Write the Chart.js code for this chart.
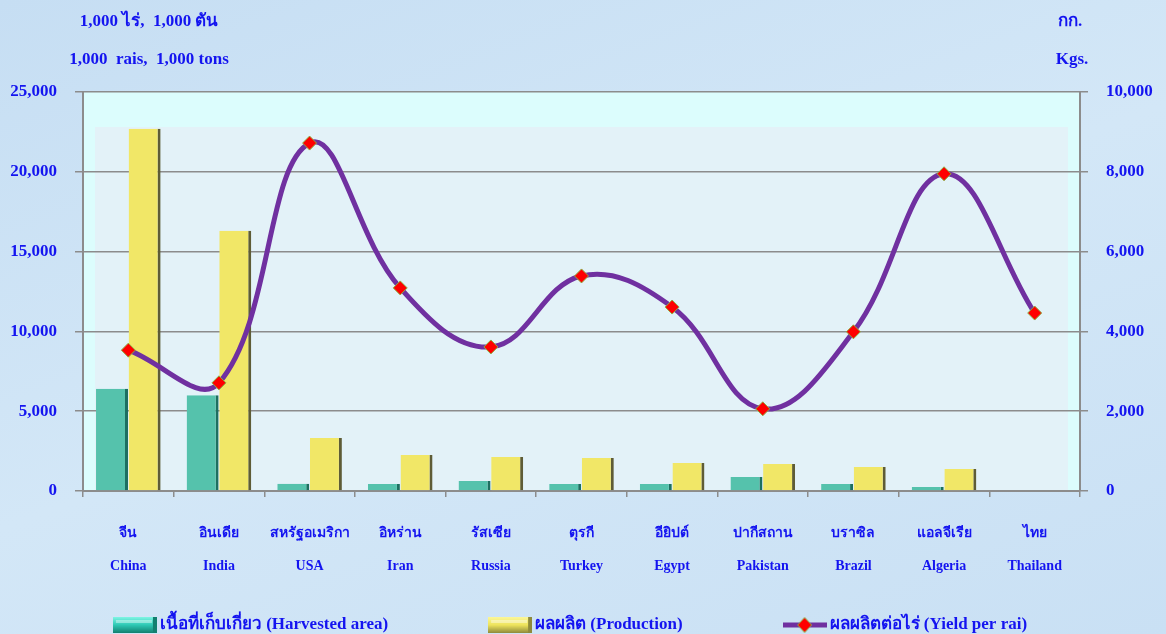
<!DOCTYPE html>
<html>
<head>
<meta charset="utf-8">
<script src="https://cdn.jsdelivr.net/npm/chart.js@4.4.1/dist/chart.umd.min.js"></script>
<style>
  html, body { margin: 0; padding: 0; }
  body { width: 1166px; height: 634px; background: linear-gradient(160deg, #c6def3 0%, #d3e7f7 50%, #c9e0f4 100%); }
  #wrap { position: relative; width: 1166px; height: 634px; }
</style>
</head>
<body>
<div id="wrap"><canvas id="chart"></canvas></div>
<script>
const thaiNames = ['จีน', 'อินเดีย', 'สหรัฐอเมริกา', 'อิหร่าน', 'รัสเซีย', 'ตุรกี', 'อียิปต์', 'ปากีสถาน', 'บราซิล', 'แอลจีเรีย', 'ไทย']
const engNames = ['China', 'India', 'USA', 'Iran', 'Russia', 'Turkey', 'Egypt', 'Pakistan', 'Brazil', 'Algeria', 'Thailand']
const harvestedArea = [6400, 6000, 450, 440, 630, 440, 440, 880, 440, 250, 0]
const production = [22700, 16300, 3320, 2250, 2130, 2070, 1750, 1690, 1500, 1380, 0]
const yieldPerRai = [3530, 2710, 8720, 5090, 3610, 5390, 4610, 2060, 3990, 7950, 4460]

const blue = '#1414f0'
const serif = '"Liberation Serif", "Times New Roman", serif'

// legend icons
function makeIcon(kind) {
  const c = document.createElement('canvas')
  c.width = 44; c.height = 16
  const g = c.getContext('2d')
  if (kind === 'line') {
    g.strokeStyle = '#7030a0'; g.lineWidth = 5
    g.beginPath(); g.moveTo(0, 8); g.lineTo(44, 8); g.stroke()
    g.fillStyle = '#ff0000'; g.strokeStyle = '#8db040'; g.lineWidth = 1
    g.beginPath(); g.moveTo(22, 0.5); g.lineTo(29, 8); g.lineTo(22, 15.5); g.lineTo(15, 8); g.closePath()
    g.fill(); g.stroke()
  } else {
    const light = kind === 'teal' ? '#7ff5e4' : '#fbf79a'
    const mid = kind === 'teal' ? '#2ec8b4' : '#eee45c'
    const dark = kind === 'teal' ? '#12806f' : '#8e8a3c'
    const gr = g.createLinearGradient(0, 0, 0, 16)
    gr.addColorStop(0, light); gr.addColorStop(0.5, mid); gr.addColorStop(1, dark)
    g.fillStyle = gr; g.fillRect(0, 0, 44, 16)
    g.fillStyle = dark; g.fillRect(40, 0, 4, 16)
    g.fillStyle = 'rgba(255,255,255,0.4)'; g.fillRect(3, 3, 36, 3)
  }
  return c
}

const legendItems = [
  { icon: makeIcon('teal'), text: 'เนื้อที่เก็บเกี่ยว (Harvested area)' },
  { icon: makeIcon('yellow'), text: 'ผลผลิต (Production)' },
  { icon: makeIcon('line'), text: 'ผลผลิตต่อไร่ (Yield per rai)' }
]

const decor = {
  id: 'decor',
  beforeDraw(chart) {
    const { ctx, chartArea: a } = chart
    ctx.save()
    ctx.fillStyle = '#dcfdfd'
    ctx.fillRect(a.left, a.top, a.right - a.left, a.bottom - a.top)
    ctx.fillStyle = '#e3f2f8'
    ctx.fillRect(a.left + 12, a.top + 35, a.right - a.left - 24, a.bottom - a.top - 35)
    ctx.restore()
  },
  afterDraw(chart) {
    const { ctx } = chart
    ctx.save()
    ctx.fillStyle = blue
    ctx.textAlign = 'center'
    ctx.textBaseline = 'middle'
    ctx.font = 'bold 17px ' + serif
    ctx.fillText('1,000 ไร่,  1,000 ตัน', 149, 22)
    ctx.fillText('1,000  rais,  1,000 tons', 149, 60)
    ctx.fillText('กก.', 1070, 22)
    ctx.fillText('Kgs.', 1072, 60)

    // legend
    ctx.font = 'bold 17px ' + serif
    ctx.textAlign = 'left'
    const gap = 100
    const widths = legendItems.map(it => 44 + 3 + ctx.measureText(it.text).width)
    const total = widths.reduce((s, w) => s + w, 0) + gap * (legendItems.length - 1)
    let x = 570 - total / 2
    const y = 625
    legendItems.forEach((it, i) => {
      ctx.drawImage(it.icon, x, y - 8)
      ctx.fillText(it.text, x + 47, y)
      x += widths[i] + gap
    })
    ctx.restore()
  }
}

const tickFont = { family: serif, size: 17, weight: 'bold' }

new Chart(document.getElementById('chart'), {
  type: 'bar',
  data: {
    labels: thaiNames.map((t, i) => [t, engNames[i]]),
    datasets: [
      {
        type: 'line',
        label: 'ผลผลิตต่อไร่ (Yield per rai)',
        data: yieldPerRai,
        yAxisID: 'y1',
        borderColor: '#7030a0',
        borderWidth: 5,
        tension: 0.4,
        pointStyle: 'rectRot',
        pointRadius: 7,
        pointBackgroundColor: '#ff0000',
        pointBorderColor: '#8db040',
        pointBorderWidth: 1,
        order: 0
      },
      {
        label: 'เนื้อที่เก็บเกี่ยว (Harvested area)',
        data: harvestedArea,
        yAxisID: 'y',
        backgroundColor: '#55c2ac',
        borderColor: '#1d6f60',
        borderWidth: { left: 0, top: 0, right: 3, bottom: 0 },
        borderSkipped: false,
        barPercentage: 0.98,
        categoryPercentage: 0.72,
        order: 1
      },
      {
        label: 'ผลผลิต (Production)',
        data: production,
        yAxisID: 'y',
        backgroundColor: '#f1e767',
        borderColor: '#5e5c36',
        borderWidth: { left: 0, top: 0, right: 3, bottom: 0 },
        borderSkipped: false,
        barPercentage: 0.98,
        categoryPercentage: 0.72,
        order: 1
      }
    ]
  },
  options: {
    responsive: true,
    maintainAspectRatio: false,
    animation: false,
    layout: { padding: { top: 92, left: 0, right: 0, bottom: 0 } },
    plugins: {
      legend: { display: false },
      tooltip: { enabled: false }
    },
    scales: {
      x: {
        offset: true,
        afterFit: s => { s.height = 143 },
        grid: { display: true, drawOnChartArea: false, tickLength: 6, color: '#8c8c8c', lineWidth: 1.5, offset: true },
        border: { color: '#8c8c8c', width: 2 },
        ticks: { color: blue, font: { family: serif, size: 14, weight: 'bold', lineHeight: 2.35 }, padding: 20, maxRotation: 0, autoSkip: false }
      },
      y: {
        position: 'left',
        min: 0, max: 25000,
        afterFit: s => { s.width = 83 },
        grid: { color: '#8c8c8c', lineWidth: 1.5, tickLength: 8 },
        border: { color: '#8c8c8c', width: 2 },
        ticks: { stepSize: 5000, color: blue, font: tickFont, padding: 18, callback: v => v.toLocaleString('en-US') }
      },
      y1: {
        position: 'right',
        min: 0, max: 10000,
        afterFit: s => { s.width = 86 },
        grid: { drawOnChartArea: false, color: '#8c8c8c', lineWidth: 1.5, tickLength: 8 },
        border: { color: '#8c8c8c', width: 2 },
        ticks: { stepSize: 2000, color: blue, font: tickFont, padding: 18, callback: v => v.toLocaleString('en-US') }
      }
    }
  },
  plugins: [decor]
})
</script>
</body>
</html>
